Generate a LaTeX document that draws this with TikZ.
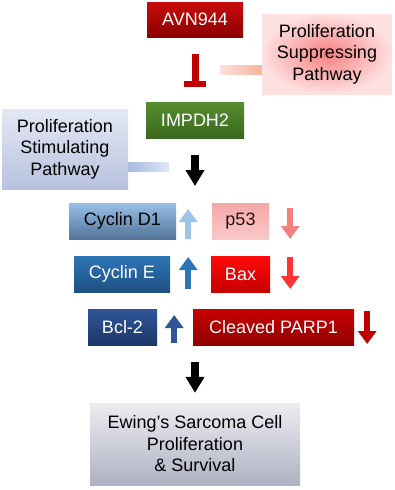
\documentclass[tikz,border=0pt]{standalone}
\usepackage{fontspec}
\setmainfont{Liberation Sans}
\usetikzlibrary{arrows.meta,calc,positioning}
\definecolor{avntop}{RGB}{200,12,12}
\definecolor{avnbot}{RGB}{140,0,0}
\definecolor{imptop}{RGB}{86,142,48}
\definecolor{impbot}{RGB}{58,104,30}
\definecolor{cydtop}{RGB}{152,192,232}
\definecolor{cydbot}{RGB}{82,116,152}
\definecolor{ptop}{RGB}{244,168,168}
\definecolor{pbot}{RGB}{250,200,200}
\definecolor{cyetop}{RGB}{46,117,182}
\definecolor{cyebot}{RGB}{30,80,132}
\definecolor{baxtop}{RGB}{255,10,10}
\definecolor{baxbot}{RGB}{200,0,0}
\definecolor{bcltop}{RGB}{47,86,152}
\definecolor{bclbot}{RGB}{30,55,105}
\definecolor{parptop}{RGB}{200,0,0}
\definecolor{parpbot}{RGB}{145,0,0}
\definecolor{ewstop}{RGB}{236,236,241}
\definecolor{ewsbot}{RGB}{174,177,194}
\definecolor{stimtop}{RGB}{228,232,244}
\definecolor{stimbot}{RGB}{184,194,222}
\definecolor{suppin}{RGB}{248,128,128}
\definecolor{suppout}{RGB}{253,224,224}
\definecolor{uplight}{RGB}{157,195,230}
\definecolor{upmid}{RGB}{46,117,182}
\definecolor{updark}{RGB}{47,85,151}
\definecolor{dnlight}{RGB}{240,130,130}
\definecolor{dnmid}{RGB}{255,51,51}
\definecolor{dndark}{RGB}{192,0,0}

\tikzset{
  box/.style={minimum height=36pt,inner sep=0pt,align=center,font=\fontsize{18}{21.5}\selectfont},
  pathbox/.style={box,minimum height=80pt},
  fcarrow/.style={line width=6pt,-{Triangle[width=18pt,length=13pt]}},
  mainarrow/.style={line width=8pt,black,-{Triangle[width=18pt,length=16pt]}}
}

\begin{document}
\begin{tikzpicture}[x=1pt,y=-1pt]
  \useasboundingbox (0,0) rectangle (394,490);
  % top: drug and target
  \node[box,minimum width=96pt,minimum height=35pt,top color=avntop,bottom color=avnbot,text=white] (avn) at (195,19.5) {AVN944};
  \node[pathbox,minimum width=130pt,shading=radial,inner color=suppin,outer color=suppout] (supp) at (327,54) {Proliferation\\Suppressing\\Pathway};
  \node[box,minimum width=98pt,top color=imptop,bottom color=impbot,text=white] (impdh) at (195,120) {IMPDH2};
  \node[pathbox,minimum width=126pt,top color=stimtop,bottom color=stimbot] (stim) at (65,149) {Proliferation\\Stimulating\\Pathway};
  \draw[line width=7pt,dndark,shorten <=17pt,shorten >=15pt,-{Rectangle[width=22pt,length=6pt]}] (avn.south) -- (impdh.north);
  \shade[left color=suppout,right color={rgb,255:red,246;green,180;blue,156}] ($(supp.west)+(-42,11.5)$) rectangle ($(supp.west)+(0,20.5)$);
  \shade[left color={rgb,255:red,166;green,188;blue,226},right color={rgb,255:red,222;green,230;blue,244}] ($(stim.east)+(0,13.5)$) rectangle ($(stim.east)+(41,22.5)$);
  \coordinate (hit) at (195,186);
  \draw[mainarrow,shorten <=17pt] (impdh.south) -- (hit);
  % markers
  \node[box,minimum width=107pt,top color=cydtop,bottom color=cydbot] (cycd) at (122.5,221) {Cyclin D1};
  \node[box,minimum width=57pt,top color=ptop,bottom color=pbot,text={rgb,255:red,40;green,20;blue,20}] (p53) at (240.5,221) {p53};
  \node[box,minimum width=96pt,top color=cyetop,bottom color=cyebot,text=white] (cyce) at (122,274) {Cyclin E};
  \node[box,minimum width=59pt,top color=baxtop,bottom color=baxbot,text=white] (bax) at (240.5,274) {Bax};
  \node[box,minimum width=69pt,top color=bcltop,bottom color=bclbot,text=white] (bcl) at (122.5,327) {Bcl-2};
  \node[box,minimum width=161pt,top color=parptop,bottom color=parpbot,text=white] (parp) at (273.5,327) {Cleaved PARP1};
  \draw[fcarrow,uplight] ($(cycd.east)+(12,18)$) -- ++(0,-30);
  \draw[fcarrow,dnlight] ($(p53.east)+(21,-13)$) -- ++(0,31);
  \draw[fcarrow,upmid] ($(cyce.east)+(18,15)$) -- ++(0,-32);
  \draw[fcarrow,dnmid] ($(bax.east)+(20,-17)$) -- ++(0,32);
  \draw[fcarrow,updark] ($(bcl.east)+(17,16)$) -- ++(0,-28);
  \draw[fcarrow,dndark] ($(parp.east)+(13,-16)$) -- ++(0,33);
  % outcome
  \node[box,minimum width=210pt,minimum height=82pt,top color=ewstop,bottom color=ewsbot] (ews) at (195,444) {Ewing's Sarcoma Cell\\Proliferation\\\& Survival};
  \coordinate (from) at (195,362);
  \draw[mainarrow,shorten >=10pt] (from) -- (ews.north);
\end{tikzpicture}
\end{document}
